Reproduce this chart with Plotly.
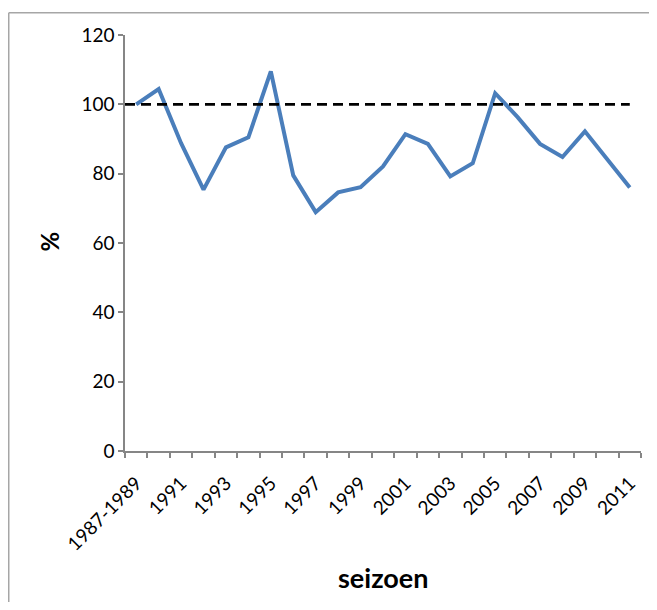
import plotly.graph_objects as go

categories = ["1987-1989"] + [str(y) for y in range(1990, 2012)]
values = [100, 104.4, 88.8, 75.4, 87.6, 90.5, 109.5, 79.5, 68.9, 74.6, 76.1,
          82.1, 91.4, 88.6, 79.2, 83.0, 103.2, 96.3, 88.6, 84.8, 92.2, 84.1, 76.0]
reference_value = 100
y_ticks = [0, 20, 40, 60, 80, 100, 120]

idx = list(range(len(categories)))
label_idx = idx[::2]
label_text = [categories[i] for i in label_idx]

FONT = "Lato"
AXIS_COLOR = "#868686"
FRAME = dict(color="#A6A6A6", width=1.5)

fig = go.Figure()
fig.add_trace(go.Scatter(
    x=idx, y=values, mode="lines",
    line=dict(color="#4A7EBB", width=4),
    showlegend=False, hoverinfo="skip",
))

fig.add_shape(type="line", xref="x", yref="y",
              x0=-0.5, x1=idx[-1], y0=reference_value, y1=reference_value,
              line=dict(color="black", width=2.8, dash="10px,6px"))

# chart border (outer frame: only left and top edges are visible)
fig.add_shape(type="line", xref="paper", yref="paper",
              x0=-0.2253, x1=-0.2253, y0=-0.5, y1=1.0533, line=FRAME, layer="below")
fig.add_shape(type="line", xref="paper", yref="paper",
              x0=-0.2253, x1=1.2, y0=1.0533, y1=1.0533, line=FRAME, layer="below")

fig.update_layout(
    width=641, height=594,
    margin=dict(l=117, r=8, t=27, b=151),
    paper_bgcolor="white", plot_bgcolor="white",
    font=dict(family=FONT, color="black", size=18),
    xaxis=dict(
        range=[-0.5, len(categories) - 0.5], automargin=False,
        tickmode="array", tickvals=label_idx, ticktext=label_text,
        tickangle=-45, ticks="", showgrid=False, zeroline=False,
        showline=True, linecolor=AXIS_COLOR, linewidth=1.5,
        tickfont=dict(family=FONT, size=19), ticklabelstandoff=12,
        minor=dict(ticks="outside", tick0=-0.5, dtick=1, ticklen=5,
                   tickcolor=AXIS_COLOR, tickwidth=1.5, showgrid=False),
    ),
    yaxis=dict(
        range=[0, 120], tickmode="array", tickvals=y_ticks, automargin=False,
        ticks="outside", ticklen=5, tickcolor=AXIS_COLOR, tickwidth=1.5,
        showgrid=False, zeroline=False,
        showline=True, linecolor=AXIS_COLOR, linewidth=1.5,
        tickfont=dict(family=FONT, size=19),
    ),
    annotations=[
        dict(text="<b>%</b>", xref="paper", yref="paper", x=-0.147, y=0.504,
             showarrow=False, textangle=-90, font=dict(family=FONT, size=24),
             xanchor="center", yanchor="middle"),
        dict(text="<b>seizoen</b>", xref="paper", yref="paper", x=0.5, y=-0.3035,
             showarrow=False, font=dict(family=FONT, size=27),
             xanchor="center", yanchor="middle"),
    ],
)

fig.write_html("out.html")
